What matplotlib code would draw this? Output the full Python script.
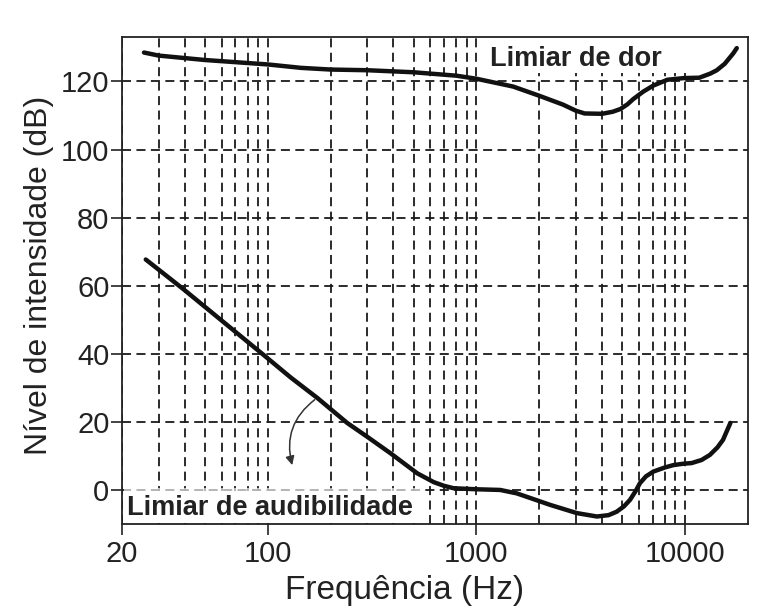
import matplotlib
matplotlib.use("Agg")
import matplotlib.pyplot as plt
from matplotlib.patches import Rectangle, FancyArrowPatch
from matplotlib.ticker import FixedLocator, NullFormatter

plt.rcParams["font.family"] = ["Liberation Sans", "DejaVu Sans"]

# limiar de dor (upper curve)
freq_dor = [25.5, 30, 50, 100, 144, 200, 300, 500, 800, 1000, 1500, 2000, 2600,
            3000, 3300, 4000, 4500, 4900, 5300, 5640, 6300, 7050, 8230, 9900,
            11700, 13200, 14200, 15500, 17000, 17700]
db_dor = [128.5, 127.6, 126.3, 125, 124, 123.5, 123.3, 122.7, 121.7, 120.8, 118.5,
          115.8, 113.2, 111.4, 110.6, 110.5, 111.1, 111.9, 113.3, 114.8, 117,
          118.8, 120.5, 121, 121.1, 122.3, 123.3, 125.2, 128.2, 129.8]

# limiar de audibilidade (lower curve)
freq_aud = [26, 39, 94, 129, 173, 240, 300, 387, 520, 624, 700, 778, 1000, 1300,
            1560, 2260, 3030, 3780, 4300, 4700, 5100, 5450, 5800, 6080, 6500,
            7050, 8000, 8790, 9800, 10760, 12000, 13160, 14300, 15200, 16500]
db_aud = [67.7, 59.2, 40, 33, 27, 19.7, 15.6, 10.8, 4.9, 2.3, 1.2, 0.5, 0.2, 0,
          -1, -4.4, -6.8, -7.8, -7.4, -6.4, -4.8, -2.9, -0.3, 2, 4, 5.4, 6.6,
          7.3, 7.7, 7.9, 8.8, 10.3, 12.5, 14.7, 19.7]

major_x = [20, 100, 1000, 10000]
minor_x = [30, 40, 50, 60, 70, 80, 90, 200, 300, 400, 500, 600, 700, 800, 900,
           2000, 3000, 4000, 5000, 6000, 7000, 8000, 9000]
y_ticks = [0, 20, 40, 60, 80, 100, 120]

fig = plt.figure(figsize=(7.6, 6.1), dpi=100)
ax = fig.add_axes([0.1605, 0.141, 0.8235, 0.798])
ax.set_xscale("log")
ax.set_xlim(20, 20000)
ax.set_ylim(-10, 133)

ax.xaxis.set_major_locator(FixedLocator(major_x))
ax.xaxis.set_minor_locator(FixedLocator(minor_x))
ax.xaxis.set_minor_formatter(NullFormatter())
ax.set_xticks(major_x, [str(v) for v in major_x])
ax.set_yticks(y_ticks)

grid_kw = dict(color="#1a1a1a", linewidth=1.3, linestyle=(0, (5, 3)))
ax.set_axisbelow(True)
ax.grid(axis="x", which="both", **grid_kw)
ax.grid(axis="y", which="major", **grid_kw)

ax.tick_params(axis="both", which="major", labelsize=21, direction="out",
               length=8, width=1.2, color="#222222", labelcolor="#222222")
ax.tick_params(axis="x", which="minor", length=0)
ax.tick_params(axis="y", pad=1)
for s in ax.spines.values():
    s.set_linewidth(1.3)
    s.set_color("#222222")

# white boxes behind labels (lighten the 0 line under the lower label)
ax.add_patch(Rectangle((20.5, -9.8), 560 - 20.5, 9.5, facecolor="white",
                       edgecolor="none", zorder=1.5))
ax.add_patch(Rectangle((20.5, -0.3), 560 - 20.5, 1.0, facecolor="white",
                       edgecolor="none", alpha=0.65, zorder=1.5))
ax.add_patch(Rectangle((1100, 122.5), 11000 - 1100, 10.2, facecolor="white",
                       edgecolor="none", zorder=1.5))

ax.plot(freq_dor, db_dor, color="#111111", lw=3.2, solid_capstyle="round",
        solid_joinstyle="round", zorder=3)
ax.plot(freq_aud, db_aud, color="#111111", lw=3.2, solid_capstyle="round",
        solid_joinstyle="round", zorder=3)

ax.text(1160, 126.6, "Limiar de dor", fontsize=19.5, fontweight="bold",
        color="#222222", va="center", ha="left", zorder=4)
ax.text(21.2, -5.3, "Limiar de audibilidade", fontsize=19.5, fontweight="bold",
        color="#222222", va="center", ha="left", zorder=4)

arrow = FancyArrowPatch((172, 27), (132, 6.5), connectionstyle="arc3,rad=0.35",
                        arrowstyle="-|>", mutation_scale=13, lw=1.1,
                        color="#333333", zorder=4)
ax.add_patch(arrow)

ax.set_xlabel("Frequência (Hz)", fontsize=24, color="#222222", labelpad=3)
ax.xaxis.set_label_coords(0.451, -0.105)
ax.set_ylabel("Nível de intensidade (dB)", fontsize=23, color="#222222",
              labelpad=5)
ax.yaxis.label.set_y(0.511)

fig.savefig("out.png", dpi=100)
